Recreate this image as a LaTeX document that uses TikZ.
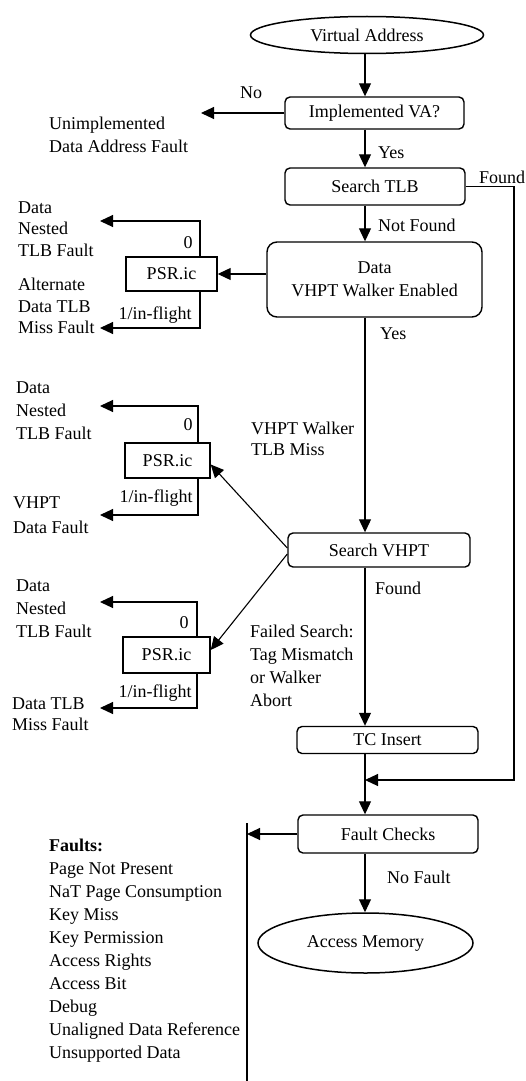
\documentclass[tikz,border=0pt]{standalone}
\usepackage{fontspec}
\setmainfont{Liberation Serif}
\usetikzlibrary{shapes.geometric,arrows.meta}
\begin{document}
\begin{tikzpicture}[x=1pt,y=-1pt,
  font=\fontsize{18}{23}\selectfont,
  every node/.style={inner sep=0pt},
  flowbox/.style={draw,line width=1.4pt,rounded corners=5pt,align=center},
  oval/.style={draw,ellipse,line width=1.5pt},
  icbox/.style={draw,line width=1.4pt},
  arr/.style={line width=1.1pt,-{Triangle[length=13pt,width=12pt]}},
  wire/.style={line width=1.1pt},
  lbl/.style={anchor=west,align=left},
  tight/.style={font=\fontsize{18}{21.5}\selectfont}
]
\useasboundingbox (0,0) rectangle (526,1081);

% main flow
\node[oval,minimum width=233pt,minimum height=37pt] (va) at (367,35) {Virtual Address};
\node[flowbox,minimum width=179pt,minimum height=32pt] (impl) at (374.5,113) {Implemented VA?};
\node[flowbox,minimum width=180pt,minimum height=37pt] (stlb) at (375,186.5) {Search TLB};
\node[flowbox,rounded corners=10pt,minimum width=215pt,minimum height=75pt] (walker) at (374.5,279.5) {Data\\VHPT Walker Enabled};
\node[flowbox,minimum width=182pt,minimum height=34pt] (svhpt) at (379,550) {Search VHPT};
\node[flowbox,minimum width=181pt,minimum height=27pt] (tci) at (387.5,740) {TC Insert};
\node[flowbox,minimum width=180pt,minimum height=38pt] (fchk) at (388,834) {Fault Checks};
\node[oval,minimum width=215pt,minimum height=60pt] (am) at (365.5,943) {Access Memory};

% PSR.ic decision boxes
\node[icbox,minimum width=91pt,minimum height=34pt] (psr1) at (171.5,274) {PSR.ic};
\node[icbox,minimum width=85pt,minimum height=35pt] (psr2) at (167.5,460.5) {PSR.ic};
\node[icbox,minimum width=87pt,minimum height=36pt] (psr3) at (166.5,655) {PSR.ic};

% helper coordinates
\coordinate (spine) at (365,0);
\coordinate (rail) at (514,0);
\coordinate (join) at (365,780);
\coordinate (uda) at (201,113);
\coordinate (fbar) at (247,837);
\coordinate (bartop) at (247,823);
\coordinate (barbot) at (247,1081);
\coordinate (c1) at (200,0);
\coordinate (c2) at (198,0);
\coordinate (c3) at (197,0);
\coordinate (t1) at (100,221);
\coordinate (b1) at (100,328);
\coordinate (t2) at (100,406);
\coordinate (b2) at (100,515);
\coordinate (t3) at (100,602);
\coordinate (b3) at (100,708);

% vertical flow
\draw[arr] (va.south -| spine) -- (impl.north -| spine);
\draw[arr] (impl.south -| spine) -- (stlb.north -| spine);
\draw[arr] (stlb.south -| spine) -- (walker.north -| spine);
\draw[arr] (walker.south -| spine) -- (svhpt.north -| spine);
\draw[arr] (svhpt.south -| spine) -- (tci.north -| spine);
\draw[arr] (tci.south -| spine) -- (fchk.north -| spine);
\draw[arr] (fchk.south -| spine) -- (am.north -| spine);

% TLB hit bypass
\draw[arr] (stlb.east) -- (stlb.east -| rail) -- (rail |- join) -- (join);

% unimplemented address
\draw[arr] (impl.west) -- (uda);

% fault bar
\draw[arr] (fchk.west) -- (fchk.west -| fbar);
\draw[wire] (bartop) -- (barbot);

% walker disabled
\draw[arr] (psr1.east -| walker.west) -- (psr1.east);

% VHPT search failures
\draw[arr] ([yshift=2pt]svhpt.west) -- ([yshift=-4pt]psr2.east);
\draw[arr] ([yshift=-4pt]svhpt.west) -- ([yshift=5pt]psr3.east);

% PSR.ic outcomes
\draw[arr] (psr1.north -| c1) |- (t1);
\draw[arr] (psr1.south -| c1) |- (b1);
\draw[arr] (psr2.north -| c2) |- (t2);
\draw[arr] (psr2.south -| c2) |- (b2);
\draw[arr] (psr3.north -| c3) |- (t3);
\draw[arr] (psr3.south -| c3) |- (b3);

\node at (188,243) {0};
\node at (188,425) {0};
\node at (184,623) {0};
\node at (155,315) {1/in-flight};
\node at (156,498) {1/in-flight};
\node at (155,693) {1/in-flight};

% edge labels
\node at (251,93) {No};
\node[lbl] at (378,153) {Yes};
\node[lbl] at (479,177) {Found};
\node[lbl] at (378,225) {Not Found};
\node[lbl] at (380,334) {Yes};
\node[lbl,tight] at (251,439) {VHPT Walker\\TLB Miss};
\node[lbl] at (375,588) {Found};
\node[lbl] at (250,666) {Failed Search:\\Tag Mismatch\\or Walker\\Abort};
\node[lbl] at (387,877) {No Fault};

% fault names
\node[lbl] at (49,135) {Unimplemented\\Data Address Fault};
\node[lbl,tight] at (18,229) {Data\\Nested\\TLB Fault};
\node[lbl,tight] at (18,306) {Alternate\\Data TLB\\Miss Fault};
\node[lbl] at (16,411) {Data\\Nested\\TLB Fault};
\node[lbl,font=\fontsize{18}{25}\selectfont] at (13,515) {VHPT\\Data Fault};
\node[lbl] at (16,609) {Data\\Nested\\TLB Fault};
\node[lbl,tight] at (12,714) {Data TLB\\Miss Fault};
\node[lbl] at (49,951) {\textbf{Faults:}\\Page Not Present\\NaT Page Consumption\\Key Miss\\Key Permission\\Access Rights\\Access Bit\\Debug\\Unaligned Data Reference\\Unsupported Data};
\end{tikzpicture}
\end{document}
